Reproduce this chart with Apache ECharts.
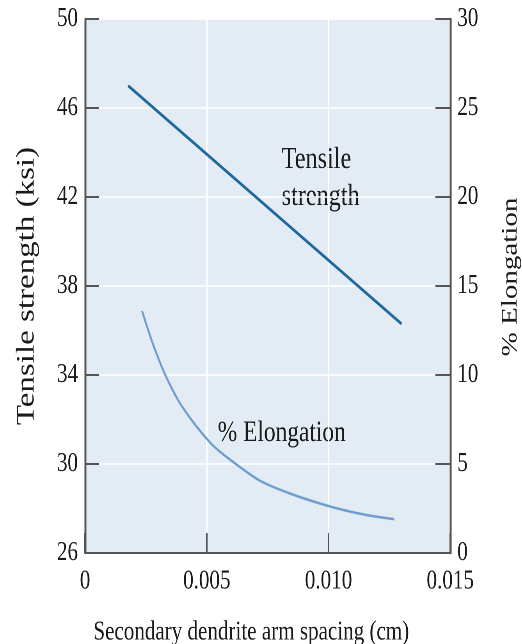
<!DOCTYPE html>
<html>
<head>
<meta charset="utf-8">
<script src="https://cdn.jsdelivr.net/npm/echarts@6/dist/echarts.min.js"></script>
<style>
  html, body { margin: 0; padding: 0; background: #fff; overflow: hidden; }
  /* the figure is squeezed sideways, so draw wider and squash it */
  #chart { width: 669px; height: 644px; transform: scaleX(0.7803); transform-origin: 0 0; }
</style>
</head>
<body>
<div id="chart"></div>
<script>
// spacing (cm) vs tensile strength (ksi)
const tensileX = [0.00177, 0.0130];
const tensileY = [47.0, 36.3];

// spacing (cm) vs % elongation
const elongX = [0.00234, 0.0028, 0.00333, 0.0040, 0.00514, 0.0060, 0.0072, 0.0085, 0.0101, 0.0115, 0.0127];
const elongY = [13.6, 11.7, 9.9, 8.2, 6.2, 5.2, 4.05, 3.3, 2.6, 2.15, 1.9];

const serif = 'Liberation Serif';

function initChart() {
  // render at 2x so the squashed text stays crisp
  const chart = echarts.init(document.getElementById('chart'), null, { devicePixelRatio: 2 });

  const option = {
    animation: false,
    grid: {
      left: 109,
      right: 92,
      top: 19,
      bottom: 91,
      containLabel: false,
      outerBoundsMode: 'none',
      show: true,
      backgroundColor: '#e3ebf5',
      borderWidth: 0
    },
    xAxis: {
      type: 'value',
      min: 0,
      max: 0.015,
      interval: 0.005,
      name: 'Secondary dendrite arm spacing (cm)',
      nameLocation: 'middle',
      nameGap: 66,
      nameTextStyle: { fontFamily: serif, fontSize: 27, color: '#1a1a1a', padding: [0, 42, 0, 0] },
      axisLine: { lineStyle: { color: '#555', width: 2 } },
      axisTick: { inside: true, length: 20, lineStyle: { color: '#555', width: 2 } },
      axisLabel: {
        margin: 15,
        fontFamily: serif,
        fontSize: 27,
        color: '#1a1a1a',
        formatter: v => v === 0 ? '0' : v.toFixed(3)
      },
      splitLine: { lineStyle: { color: '#ffffff', width: 2 } }
    },
    yAxis: [{
      type: 'value',
      min: 26,
      max: 50,
      interval: 4,
      name: 'Tensile strength (ksi)',
      nameLocation: 'middle',
      nameRotate: 90,
      nameGap: 58,
      nameTextStyle: { fontFamily: serif, fontSize: 33, color: '#1a1a1a' },
      axisLine: { show: true, lineStyle: { color: '#555', width: 2.5 } },
      axisTick: { show: true, inside: true, length: 18, lineStyle: { color: '#555', width: 2 } },
      axisLabel: { margin: 9, fontFamily: serif, fontSize: 27, color: '#1a1a1a' },
      splitLine: { lineStyle: { color: '#ffffff', width: 1.5 } }
    }, {
      type: 'value',
      position: 'right',
      min: 0,
      max: 30,
      interval: 5,
      name: '% Elongation',
      nameLocation: 'middle',
      nameRotate: 90,
      nameGap: 63,
      nameTextStyle: { fontFamily: serif, fontSize: 29, color: '#1a1a1a', padding: [0, 0, 0, 18] },
      axisLine: { show: true, lineStyle: { color: '#555', width: 2.5 } },
      axisTick: { show: true, inside: true, length: 19, lineStyle: { color: '#555', width: 2 } },
      axisLabel: { margin: 9, fontFamily: serif, fontSize: 27, color: '#1a1a1a' },
      splitLine: { show: false }
    }],
    graphic: [
      { type: 'text', x: 361, y: 160, style: { text: 'Tensile', font: '31px "Liberation Serif"', fill: '#1a1a1a', verticalAlign: 'middle' } },
      { type: 'text', x: 361, y: 197, style: { text: 'strength', font: '31px "Liberation Serif"', fill: '#1a1a1a', verticalAlign: 'middle' } },
      { type: 'text', x: 279, y: 433, style: { text: '% Elongation', font: '30px "Liberation Serif"', fill: '#1a1a1a', verticalAlign: 'middle' } }
    ],
    series: [{
      name: 'Tensile strength',
      type: 'line',
      yAxisIndex: 0,
      symbol: 'none',
      lineStyle: { color: '#1f6a9c', width: 3 },
      data: tensileX.map((x, i) => [x, tensileY[i]])
    }, {
      name: '% Elongation',
      type: 'line',
      yAxisIndex: 1,
      symbol: 'none',
      smooth: 0.3,
      lineStyle: { color: '#6f9fcc', width: 2.5 },
      data: elongX.map((x, i) => [x, elongY[i]])
    }]
  };

  chart.setOption(option);
}

initChart();
</script>
</body>
</html>
